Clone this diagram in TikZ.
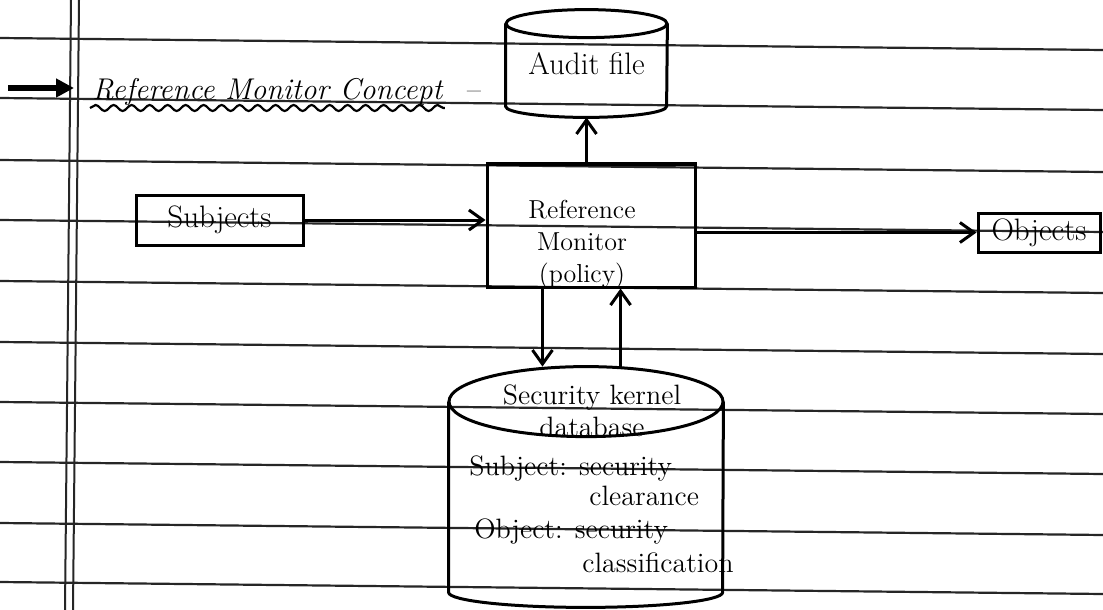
\documentclass[tikz,border=0pt]{standalone}
\usepackage{tikz}
\usetikzlibrary{arrows.meta,positioning,calc,decorations.pathmorphing}
\tikzstyle{ruled}=[draw=black!85,line width=1.1pt]
\tikzstyle{box}=[draw,line width=1.5pt,inner sep=0pt]
\tikzstyle{store}=[inner sep=0pt]
\tikzstyle{edge}=[draw,line width=1.5pt,-{Straight Barb[length=7pt,width=10pt]}]
\tikzstyle{hand}=[font=\fontsize{14}{16}\selectfont,inner sep=1pt]

\begin{document}
\begin{tikzpicture}[x=0.5pt,y=-0.5pt]

    \fill[white] (0,0) rectangle (1103,610);
    \useasboundingbox (0,0) rectangle (1103,610);

    % ruled paper
    \foreach \y in {38,98,160,220,281,342,402,462,523,582}
        \path[ruled] (0,\y) -- (1103,\y+12);
    \path[ruled,line width=1pt] (71,0) -- (65,610);
    \path[ruled,line width=1pt] (79,0) -- (73,610);

    % heading
    \node[hand, anchor=base west, font=\fontsize{15}{18}\selectfont\itshape] (title) at (90,100) {Reference Monitor Concept};
    \node[hand, base right=10pt of title, font=\fontsize{15}{18}\selectfont] (dash) {--};
    \draw[line width=1.1pt, decorate, decoration={snake,amplitude=1.5pt,segment length=9pt}]
        ([yshift=-4pt]title.base west) -- ([yshift=-4pt]title.base east);
    \coordinate (mark) at (8,88);
    \draw[line width=3pt, -{Triangle[length=9pt,width=9pt]}, shorten >=8pt] (mark) -- (mark -| title.west);

    % boxes
    \foreach \x/\y/\w/\h/\name/\lbl in {219.5/220/83.5/25/subj/Subjects, 1039/232.5/61/19.5/obj/Objects}
        \node[box, minimum width=\w pt, minimum height=\h pt, font=\fontsize{15.5}{18}\selectfont] (\name) at (\x,\y) {\lbl};

    \node[box, minimum width=104pt, minimum height=61.5pt] (rm) at (591,225.5) {};
    \node[hand, align=center, font=\fontsize{13}{16}\selectfont] (rmtext) at (582,245) {Reference\\Monitor\\(policy)};

    % audit file
    \node[store, minimum width=80.5pt, minimum height=53.5pt, font=\fontsize{15.5}{18}\selectfont] (audit) at (586.5,63.5) {Audit file};
    \draw[box] ([yshift=-7pt]audit.north) ellipse [x radius=40.25pt, y radius=7pt];
    \draw[box] ([yshift=-7pt]audit.north west) -- ([yshift=5.5pt]audit.south west)
        arc [start angle=180, end angle=360, x radius=40.25pt, y radius=5.5pt] -- ([yshift=-7pt]audit.north east);

    % kernel database
    \node[store, minimum width=137pt, minimum height=120pt] (db) at (586,487) {};
    \draw[box] ([yshift=-17.5pt]db.north) ellipse [x radius=68.5pt, y radius=17.5pt];
    \draw[box] ([yshift=-17.5pt]db.north west) -- ([yshift=7.5pt]db.south west)
        arc [start angle=180, end angle=360, x radius=68.5pt, y radius=7.5pt] -- ([yshift=-17.5pt]db.north east);
    \node[hand, align=center] (dbname) at (592,411) {Security kernel\\database};
    \node[hand, anchor=base west] (subjrow) at (467,475) {Subject: security};
    \node[hand, anchor=base west] (subjval) at (587,505) {clearance};
    \node[hand, anchor=base west] (objrow) at (472,538) {Object: security};
    \node[hand, anchor=base west] (objval) at (580,572) {classification};

    % connectors
    \coordinate (down) at ($(rm.south west)!0.27!(rm.south east)$);
    \coordinate (up) at ($(rm.south west)!0.64!(rm.south east)$);
    \path[edge] (subj.east) -- (subj.east -| rm.west);
    \path[edge] (rm.east |- obj.west) -- (obj.west);
    \path[edge] (rm.north -| audit.south) -- (audit.south);
    \path[edge] (down) -- (down |- db.north);
    \path[edge] (up |- db.north) -- (up);

\end{tikzpicture}
\end{document}
